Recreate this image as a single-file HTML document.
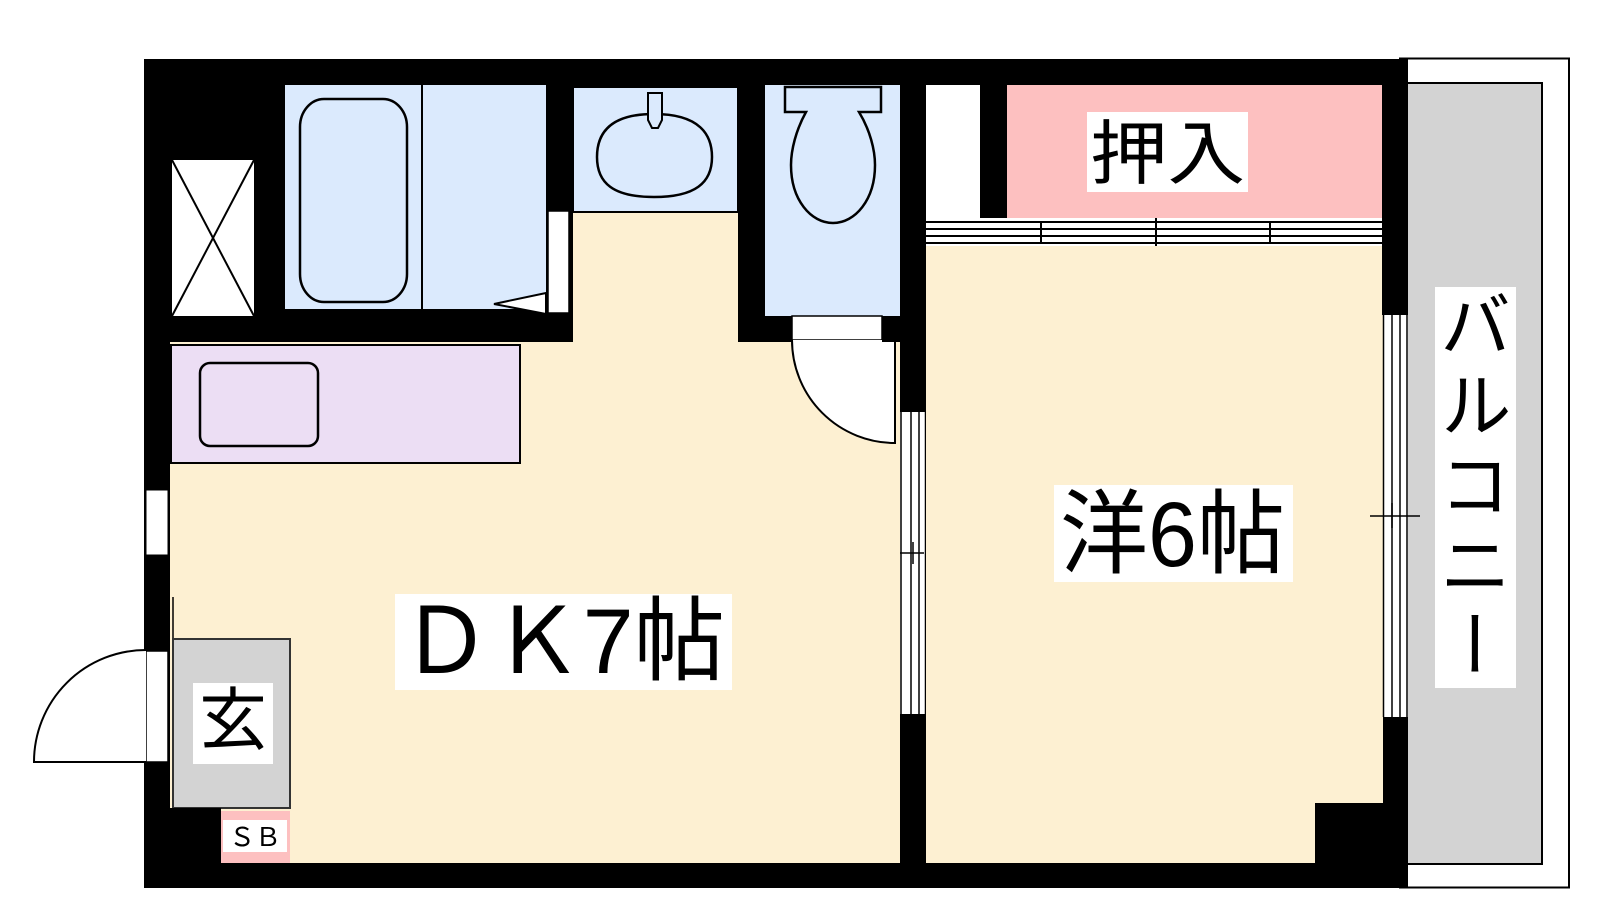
<!DOCTYPE html>
<html><head><meta charset="utf-8"><style>
html,body{margin:0;padding:0;background:#fff;width:1600px;height:900px;overflow:hidden;position:relative}
svg{position:absolute;left:0;top:0}
.t{font-family:"Liberation Sans","Noto Sans CJK JP",sans-serif;}
#bal{position:absolute;left:1435px;top:287px;width:81px;height:401px;background:#fff;writing-mode:vertical-rl;font-family:"Noto Sans CJK JP",sans-serif;font-size:72px;line-height:81px;letter-spacing:8px;text-align:center;color:#000}
</style></head><body>
<svg width="1600" height="900" viewBox="0 0 1600 900">
<!-- balcony -->
<rect x="1400" y="58.5" width="169" height="829" fill="#fff" stroke="#000" stroke-width="2"/>
<rect x="1400" y="83" width="142" height="781" fill="#d3d3d3" stroke="#000" stroke-width="2"/>
<!-- outer black -->
<rect x="144" y="59" width="1264" height="829" fill="#000"/>
<!-- DK cream -->
<rect x="170" y="85" width="730" height="778" fill="#fdf0d2"/>
<!-- left-top black block over cream -->
<rect x="144" y="85" width="141" height="257" fill="#000"/>
<rect x="144" y="309" width="428" height="33" fill="#000"/>
<!-- X box -->
<rect x="172" y="160" width="82" height="156" fill="#fff"/>
<line x1="172" y1="160" x2="254" y2="316" stroke="#000" stroke-width="2"/>
<line x1="254" y1="160" x2="172" y2="316" stroke="#000" stroke-width="2"/>
<!-- bath -->
<rect x="285" y="85" width="261" height="224" fill="#dbeafd"/>
<line x1="422" y1="85" x2="422" y2="309" stroke="#000" stroke-width="2"/>
<rect x="300" y="99" width="107" height="203" rx="24" ry="28" fill="#dbeafd" stroke="#000" stroke-width="2.5"/>
<rect x="546" y="85" width="27" height="257" fill="#000"/>
<rect x="548" y="211" width="21" height="102" fill="#fff" stroke="#000" stroke-width="1.5"/>
<polygon points="546,293 494,304 546,314" fill="#fff" stroke="#000" stroke-width="2"/>
<!-- sink -->
<rect x="573" y="87" width="165" height="125" fill="#dbeafd" stroke="#000" stroke-width="2"/>
<rect x="573" y="85" width="165" height="3" fill="#000"/>
<path d="M654,114 C700,114 712,135 712,157 C712,183 695,197 654,197 C613,197 597,183 597,157 C597,135 608,114 654,114 Z" fill="#dbeafd" stroke="#000" stroke-width="2.5"/>
<path d="M648,93 L662,93 L662,120 L658,128 L652,128 L648,120 Z" fill="#dbeafd" stroke="#000" stroke-width="2"/>
<!-- wall sink/toilet -->
<rect x="738" y="85" width="27" height="257" fill="#000"/>
<!-- toilet -->
<rect x="765" y="85" width="135" height="231" fill="#dbeafd"/>
<path d="M785,87 L881,87 L881,112 L859,112 C870,130 875,150 875,165 C875,200 855,223 833,223 C811,223 791,200 791,165 C791,150 796,130 806,112 L785,112 Z" fill="#dbeafd" stroke="#000" stroke-width="2.5"/>
<rect x="765" y="316" width="27" height="26" fill="#000"/>
<rect x="792" y="316" width="90" height="24" fill="#fff" stroke="#000" stroke-width="1.5"/>
<path d="M792,340 A103,103 0 0 0 895,443 L895,340" fill="#fff" stroke="#000" stroke-width="2"/>
<rect x="882" y="316" width="18" height="26" fill="#000"/>
<!-- wall DK / room6 -->
<rect x="900" y="85" width="26" height="327" fill="#000"/>
<rect x="900" y="412" width="26" height="302" fill="#fff"/>
<line x1="901" y1="412" x2="901" y2="714" stroke="#000" stroke-width="1.5"/>
<line x1="911" y1="412" x2="911" y2="714" stroke="#000" stroke-width="1.5"/>
<line x1="919" y1="412" x2="919" y2="714" stroke="#000" stroke-width="1.5"/>
<line x1="925.5" y1="412" x2="925.5" y2="714" stroke="#000" stroke-width="1.5"/>
<line x1="900" y1="553" x2="924" y2="553" stroke="#000" stroke-width="1.5"/>
<line x1="913" y1="542" x2="913" y2="564" stroke="#000" stroke-width="1.5"/>
<!-- purple kitchen -->
<rect x="171" y="345" width="349" height="118" fill="#ecdef4" stroke="#000" stroke-width="2"/>
<rect x="200" y="363" width="118" height="83" rx="10" fill="#ecdef4" stroke="#000" stroke-width="2.5"/>
<!-- left window -->
<rect x="146" y="490" width="22" height="65" fill="#fff" stroke="#000" stroke-width="1"/>
<!-- entrance door -->
<rect x="146" y="651" width="22" height="111" fill="#fff" stroke="#000" stroke-width="1.5"/>
<path d="M146,650 A112,112 0 0 0 34,762 L146,762" fill="#fff" stroke="#000" stroke-width="2"/>
<line x1="173" y1="597" x2="173" y2="652" stroke="#000" stroke-width="1.5"/>
<rect x="173" y="639" width="117" height="169" fill="#d3d3d3" stroke="#333" stroke-width="2"/>
<rect x="170" y="808" width="51" height="55" fill="#000"/>
<rect x="221" y="811" width="69" height="52" fill="#fdc0c0"/>
<rect x="223" y="820" width="64" height="32" fill="#fff"/>
<text x="255" y="846" class="t" font-size="26" text-anchor="middle">ＳＢ</text>
<rect x="193" y="683" width="80" height="81" fill="#fff"/>
<text x="233" y="744" class="t" font-size="68" text-anchor="middle">玄</text>
<!-- DK label -->
<rect x="395" y="594" width="337" height="96" fill="#fff"/>
<text x="400" y="673" class="t" font-size="92" textLength="325" lengthAdjust="spacingAndGlyphs">ＤＫ7帖</text>
<!-- room 6 -->
<rect x="926" y="246" width="457" height="617" fill="#fdf0d2"/>
<rect x="926" y="85" width="54" height="133" fill="#fff"/>
<rect x="980" y="85" width="27" height="132" fill="#000"/>
<rect x="1007" y="85" width="375" height="133" fill="#fdc0c0"/>
<rect x="1087" y="112" width="161" height="80" fill="#fff"/>
<text x="1090" y="178" class="t" font-size="70" textLength="155" lengthAdjust="spacingAndGlyphs">押入</text>
<rect x="926" y="218" width="456" height="28" fill="#fff"/>
<g stroke="#000" stroke-width="2">
<line x1="926" y1="222" x2="1382" y2="222"/>
<line x1="926" y1="229" x2="1156" y2="229"/>
<line x1="1156" y1="229" x2="1382" y2="229"/>
<line x1="926" y1="236" x2="1382" y2="236"/>
<line x1="926" y1="243" x2="1382" y2="243"/>
<line x1="1041" y1="222" x2="1041" y2="243"/>
<line x1="1030" y1="229" x2="1055" y2="229"/>
<line x1="1156" y1="218" x2="1156" y2="246"/>
<line x1="1270" y1="222" x2="1270" y2="243"/>
<line x1="1258" y1="229" x2="1283" y2="229"/>
</g>
<rect x="1382" y="85" width="26" height="230" fill="#000"/>
<rect x="1383" y="315" width="25" height="402" fill="#fff"/>
<g stroke="#000" stroke-width="1.5">
<line x1="1383.5" y1="315" x2="1383.5" y2="717"/>
<line x1="1392" y1="315" x2="1392" y2="717"/>
<line x1="1400" y1="315" x2="1400" y2="717"/>
<line x1="1407" y1="315" x2="1407" y2="717"/>
<line x1="1370" y1="516" x2="1420" y2="516"/>
<line x1="1392" y1="503" x2="1392" y2="528"/>
</g>
<rect x="1315" y="803" width="68" height="60" fill="#000"/>
<rect x="1054" y="485" width="239" height="97" fill="#fff"/>
<text x="1060" y="566" class="t" font-size="92" textLength="225" lengthAdjust="spacingAndGlyphs">洋6帖</text>
</svg>
<div id="bal">バルコニー</div>
</body></html>
